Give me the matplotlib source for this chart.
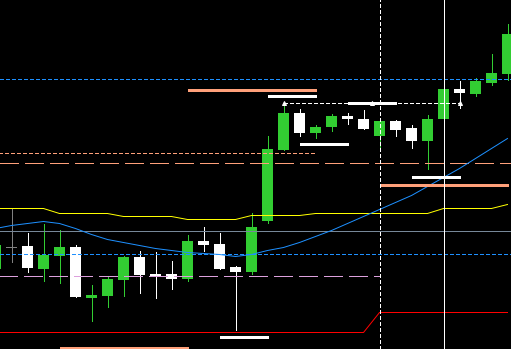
import numpy as np
import matplotlib
matplotlib.use('Agg')
import matplotlib.pyplot as plt

plt.rcParams['patch.antialiased'] = False

# chart values are screen rows (0 = top), bars are indexed left to right
opens  = [268, 246, 245, 268, 255, 246, 297, 295, 279, 256, 273, 273, 278, 240, 243, 266, 271,
          220, 149, 112, 132, 126, 115, 118, 135, 120, 127, 140, 118, 88, 93, 82, 73]
closes = [244, 246, 267, 254, 246, 296, 294, 278, 256, 274, 275, 278, 240, 244, 268, 271, 226,
          148, 112, 132, 126, 115, 118, 128, 120, 129, 140, 118, 88, 92, 80, 72, 33]
highs  = [244, 207, 232, 223, 229, 244, 284, 275, 255, 250, 251, 260, 234, 226, 232, 265, 212,
          135, 102, 108, 124, 113, 112, 109, 118, 119, 124, 114, 88, 80, 77, 53, 23]
lows   = [268, 261, 271, 280, 282, 296, 320, 306, 295, 292, 297, 288, 280, 250, 268, 329, 273,
          222, 149, 135, 137, 130, 123, 128, 147, 135, 147, 168, 118, 107, 95, 84, 79]

yellow_band = [208, 208, 208, 208, 213, 213, 213, 213, 216, 216, 216, 216, 219, 219, 219, 219, 215,
               215, 215, 215, 213, 213, 213, 213, 213, 213, 213, 213, 208, 208, 208, 208, 204]
blue_ma = [228, 225, 223, 221, 223, 228, 234, 239, 242, 245, 248, 250, 252, 253, 254, 256, 254,
           250, 247, 242, 236, 230, 223, 216, 209, 202, 195, 186, 177, 168, 158, 148, 138]
red_stop = [332] * 24 + [312] * 9

# horizontal levels: (level, from bar, to bar)
salmon_bars = [(89, 12, 20), (347, 4, 12), (184, 24, 32)]
white_bars = [(95, 17, 20), (143, 19, 22), (176, 26, 29), (336, 14, 17), (102, 22, 25)]
arrow_bars = [18, 23.5, 29]
arrow_level = 102

green = '#32CD32'
salmon = '#FFA07A'
blue = '#1E90FF'
dot = (3, 2)
dash = (18, 6)

n = len(opens)
x = np.arange(n)

fig = plt.figure(figsize=(511 / 72, 349 / 72), dpi=72, facecolor='black')
ax = fig.add_axes([0, 0, 1, 1])
ax.set_facecolor('black')
ax.axis('off')

# candles
for i in range(n):
    o, c, h, l = opens[i], closes[i], highs[i], lows[i]
    if c < o:
        col = green
    elif c > o:
        col = 'white'
    else:
        col = '#808080'
    ax.vlines(x[i], h, l, color=col, lw=1, zorder=2, antialiased=False)
    top = min(o, c)
    ax.bar(x[i], max(abs(o - c), 1), bottom=top, width=11 / 16,
           color=col, linewidth=0, align='center', zorder=2)

# full width levels
ax.axhline(78, color=blue, lw=1, dashes=dot, antialiased=False, zorder=3)
ax.axhline(162, color=salmon, lw=1, dashes=dash, antialiased=False, zorder=3)
ax.axhline(230, color='#778899', lw=1, antialiased=False, zorder=3)
ax.axhline(253, color=blue, lw=1, dashes=dot, antialiased=False, zorder=3)

# partial levels
ax.hlines(152, -1, 20, color=salmon, lw=1, linestyles=(0, dot), zorder=3,
          antialiased=False)
ax.hlines(275, -1, 24, color='#DDA0DD', lw=1, linestyles=(0, dash), zorder=3,
          antialiased=False)
ax.hlines(arrow_level, arrow_bars[0], arrow_bars[-1], color='white', lw=1,
          linestyles=(0, dot), zorder=3, antialiased=False)

# indicator lines
ax.plot(x, yellow_band, color='yellow', lw=1, zorder=3)
ax.plot(x, blue_ma, color=blue, lw=1, zorder=3)
ax.plot(x, red_stop, color='red', lw=1, zorder=3)

# thick trend segments
for lvl, a, b in salmon_bars:
    ax.hlines(lvl, a, b, color=salmon, lw=3, zorder=4, antialiased=False)
for lvl, a, b in white_bars:
    ax.hlines(lvl, a, b, color='white', lw=3, zorder=4, antialiased=False)

ax.plot(arrow_bars, [arrow_level] * len(arrow_bars), ls='none', marker='^',
        ms=4, color='white', mec='white', zorder=5)

# vertical markers
ax.axvline(24, color='white', lw=1, dashes=dot, antialiased=False, zorder=4)
ax.axvline(28, color='white', lw=1, antialiased=False, zorder=4)

ax.set_xlim(4.5 / 16, 515.5 / 16)
ax.set_ylim(348.5, -0.5)

fig.savefig('out.png', dpi=72, facecolor='black')
